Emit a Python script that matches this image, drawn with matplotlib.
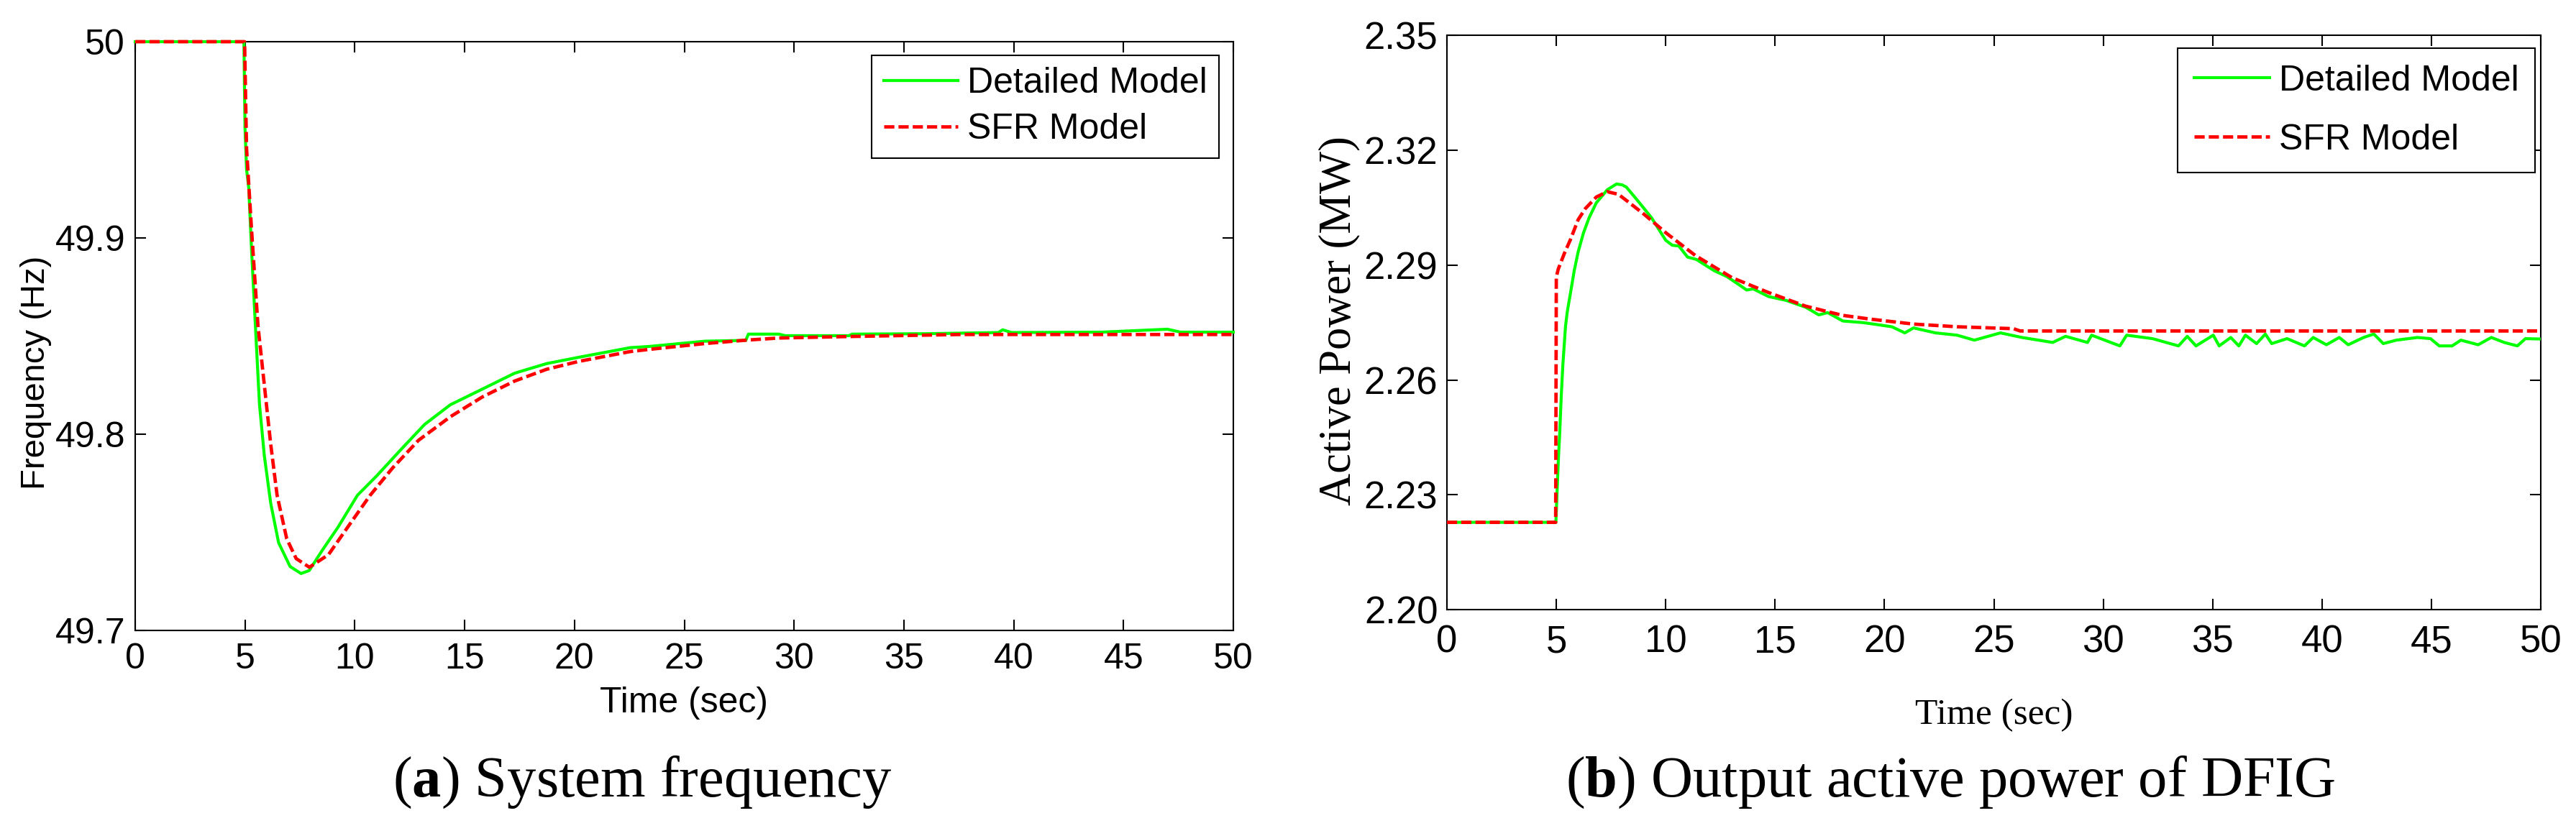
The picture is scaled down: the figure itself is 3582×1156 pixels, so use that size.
import matplotlib
matplotlib.use("Agg")
import matplotlib.pyplot as plt

# (a) system frequency
freq_t_detailed = [0, 4.95, 5.0, 5.07, 5.17, 5.3, 5.52, 5.66, 5.88, 6.17,
                   6.53, 7.05, 7.55, 7.92, 8.51, 9.24, 10.12, 10.99, 12.16, 13.18,
                   14.35, 15.81, 17.28, 18.74, 20.2, 22.54, 23.39, 25.95, 27.8, 27.92,
                   29.3, 29.6, 32.5, 32.65, 36.0, 39.3, 39.5, 39.9, 44.0, 47.0,
                   47.6, 50]
freq_detailed = [50.0, 50.0, 49.956, 49.935, 49.9255, 49.8934, 49.845, 49.815, 49.789, 49.7648,
                 49.7447, 49.7326, 49.729, 49.7305, 49.7407, 49.7527, 49.7689, 49.7787, 49.7929, 49.805,
                 49.815, 49.823, 49.8311, 49.836, 49.8392, 49.8441, 49.8447, 49.8474, 49.8478, 49.851,
                 49.851, 49.8502, 49.8502, 49.851, 49.8512, 49.8518, 49.8532, 49.8518, 49.852, 49.8535,
                 49.852, 49.852]

freq_t_sfr = [0, 4.98, 5.07, 5.29, 5.59, 5.88, 6.17, 6.46, 6.9, 7.33,
              7.93, 8.8, 9.68, 10.7, 11.72, 12.9, 14.35, 15.81, 17.28, 18.74,
              20.2, 22.54, 23.39, 25.95, 27.92, 29.3, 32.65, 37.55, 50]
freq_sfr = [50.0, 50.0, 49.9456, 49.9055, 49.8553, 49.825, 49.7949, 49.7689, 49.7467, 49.7366,
            49.7322, 49.7386, 49.7527, 49.7689, 49.7828, 49.7969, 49.8089, 49.819, 49.8271, 49.8331,
            49.8371, 49.8421, 49.8432, 49.8462, 49.848, 49.849, 49.8498, 49.8508, 49.8508]

# (b) DFIG active power
pow_t_detailed = [0, 4.98, 5.04, 5.1, 5.15, 5.23, 5.3, 5.42, 5.5, 5.65,
                  5.82, 6.0, 6.24, 6.5, 6.83, 7.33, 7.75, 8.0, 8.2, 8.67,
                  9.35, 10.0, 10.3, 10.6, 11.0, 11.4, 12.2, 12.8, 13.4, 13.7,
                  14.0, 14.7, 15.5, 16.4, 17.0, 17.4, 18.1, 19.0, 19.75, 20.34,
                  20.93, 21.33, 22.33, 23.32, 24.11, 25.3, 26.29, 27.69, 28.28, 29.28,
                  29.47, 30.76, 31.07, 32.25, 33.44, 33.84, 34.24, 35.03, 35.3, 35.83,
                  36.2, 36.5, 37.01, 37.41, 37.7, 38.4, 39.2, 39.6, 40.2, 40.79,
                  41.2, 41.9, 42.37, 42.8, 43.4, 44.36, 44.96, 45.36, 45.95, 46.35,
                  47.14, 47.74, 48.33, 48.93, 49.3, 50]
pow_detailed = [2.2228, 2.2228, 2.2316, 2.2400, 2.2454, 2.2563, 2.2640, 2.2740, 2.2778, 2.2828,
                2.2886, 2.2935, 2.2984, 2.3024, 2.3063, 2.3097, 2.3112, 2.3110, 2.3104, 2.3072,
                2.3024, 2.2965, 2.2952, 2.2950, 2.2921, 2.2915, 2.2886, 2.2870, 2.2847, 2.2835,
                2.2838, 2.2818, 2.2808, 2.2790, 2.2770, 2.2776, 2.2754, 2.2750, 2.2744, 2.2739,
                2.2723, 2.2736, 2.2723, 2.2717, 2.2704, 2.2723, 2.2711, 2.2698, 2.2714, 2.2698,
                2.2717, 2.2689, 2.2717, 2.2708, 2.2689, 2.2714, 2.2689, 2.2717, 2.2689, 2.2711,
                2.2689, 2.2717, 2.2695, 2.2720, 2.2695, 2.2708, 2.2689, 2.2711, 2.2692, 2.2711,
                2.2692, 2.2711, 2.2720, 2.2695, 2.2704, 2.2711, 2.2708, 2.2689, 2.2689, 2.2704,
                2.2692, 2.2711, 2.2698, 2.2689, 2.2708, 2.2707]

pow_t_sfr = [0, 4.97, 5.0, 5.09, 5.2, 5.37, 5.64, 6.0, 6.33, 6.83,
             7.33, 7.84, 8.34, 9.01, 10.02, 11.36, 13.04, 14.72, 16.39, 18.07,
             19.35, 21.33, 23.32, 25.9, 26.2, 50]
pow_sfr = [2.2228, 2.2228, 2.2869, 2.2890, 2.2906, 2.2931, 2.2966, 2.3019, 2.3048, 2.3078,
           2.3092, 2.3085, 2.3063, 2.3033, 2.2984, 2.2925, 2.2867, 2.2828, 2.2793, 2.2769,
           2.2759, 2.2746, 2.2739, 2.2734, 2.2728, 2.2728]

x_ticks = list(range(0, 51, 5))
freq_ticks = [49.7, 49.8, 49.9, 50.0]
freq_labels = ['49.7', '49.8', '49.9', '50']
pow_ticks = [2.20, 2.23, 2.26, 2.29, 2.32, 2.35]
pow_labels = ['2.20', '2.23', '2.26', '2.29', '2.32', '2.35']
legend_labels = ['Detailed Model', 'SFR Model']

GREEN = '#00ff00'
RED = '#ff0000'
SANS = ['Liberation Sans', 'DejaVu Sans']
SERIF = ['Liberation Serif', 'DejaVu Serif']

plt.rcParams['mathtext.fontset'] = 'custom'
plt.rcParams['mathtext.rm'] = 'Liberation Serif'
plt.rcParams['mathtext.bf'] = 'Liberation Serif:bold'

W, H = 3582, 1156
fig = plt.figure(figsize=(W / 100, H / 100), dpi=100)
fig.patch.set_facecolor('white')


def px_axes(x0, y0, x1, y1):
    return fig.add_axes([x0 / W, 1 - y1 / H, (x1 - x0) / W, (y1 - y0) / H])


def style_axis(ax, tick_size, xpad, ypad):
    for sp in ax.spines.values():
        sp.set_linewidth(1.5)
        sp.set_color('black')
    ax.tick_params(direction='in', top=True, right=True, length=11, width=1.5)
    ax.tick_params(axis='x', pad=xpad)
    ax.tick_params(axis='y', pad=ypad)
    for lab in ax.get_xticklabels() + ax.get_yticklabels():
        lab.set_family(SANS)
        lab.set_fontsize(tick_size)


# ---- (a) system frequency ----
ax1 = px_axes(188, 58, 1715, 877)
l1, = ax1.plot(freq_t_detailed, freq_detailed, color=GREEN, lw=3.0, zorder=3, clip_on=False)
l2, = ax1.plot(freq_t_sfr, freq_sfr, color=RED, lw=3.4, ls=(0, (3.0, 1.2)), zorder=4, clip_on=False)
ax1.set_xlim(0, 50)
ax1.set_ylim(49.7, 50.0)
ax1.set_xticks(x_ticks)
ax1.set_yticks(freq_ticks)
ax1.set_yticklabels(freq_labels)
style_axis(ax1, 36, 12, 10)
ax1.set_xlabel('Time (sec)', family=SANS, fontsize=36, va='center')
ax1.xaxis.set_label_coords(0.5, -0.123)
ax1.set_ylabel('Frequency (Hz)', family=SANS, fontsize=34, va='center')
ax1.yaxis.set_label_coords(-0.0904, 0.438)
leg1 = ax1.legend([l1, l2], legend_labels, loc='upper right', bbox_to_anchor=(0.987, 0.977),
                  borderaxespad=0, fancybox=False, framealpha=1, edgecolor='black',
                  prop={'family': SANS, 'size': 36}, handlelength=2.06, handletextpad=0.26,
                  borderpad=0.33, labelspacing=0.36)
leg1.get_frame().set_linewidth(1.5)

# ---- (b) DFIG active power ----
ax2 = px_axes(2012, 49.4, 3533, 848)
m1, = ax2.plot(pow_t_detailed, pow_detailed, color=GREEN, lw=3.0, zorder=3)
m2, = ax2.plot(pow_t_sfr, pow_sfr, color=RED, lw=3.4, ls=(0, (3.0, 1.2)), zorder=4)
ax2.set_xlim(0, 50)
ax2.set_ylim(2.20, 2.35)
ax2.set_xticks(x_ticks)
ax2.set_yticks(pow_ticks)
ax2.set_yticklabels(pow_labels)
style_axis(ax2, 38, 15, 9)
ax2.set_xlabel('Time (sec)', family=SERIF, fontsize=37, va='center')
ax2.xaxis.set_label_coords(0.5, -0.184)
ax2.set_ylabel('Active Power (MW)', family=SERIF, fontsize=45, va='center')
ax2.yaxis.set_label_coords(-0.0986, 0.503)
leg2 = ax2.legend([m1, m2], legend_labels, loc='upper right', bbox_to_anchor=(0.9947, 0.9775),
                  borderaxespad=0, fancybox=False, framealpha=1, edgecolor='black',
                  prop={'family': SANS, 'size': 36}, handlelength=2.1, handletextpad=0.26,
                  borderpad=0.45, labelspacing=0.72)
leg2.get_frame().set_linewidth(1.5)

# ---- captions ----
fig.text(893 / W, 1 - 1108 / H, r'($\mathbf{a}$) System frequency', family=SERIF,
         fontsize=58, ha='center', va='baseline')
fig.text(2712 / W, 1 - 1108 / H, r'($\mathbf{b}$) Output active power of DFIG', family=SERIF,
         fontsize=58, ha='center', va='baseline')

fig.savefig('out.png', dpi=100, facecolor='white')
